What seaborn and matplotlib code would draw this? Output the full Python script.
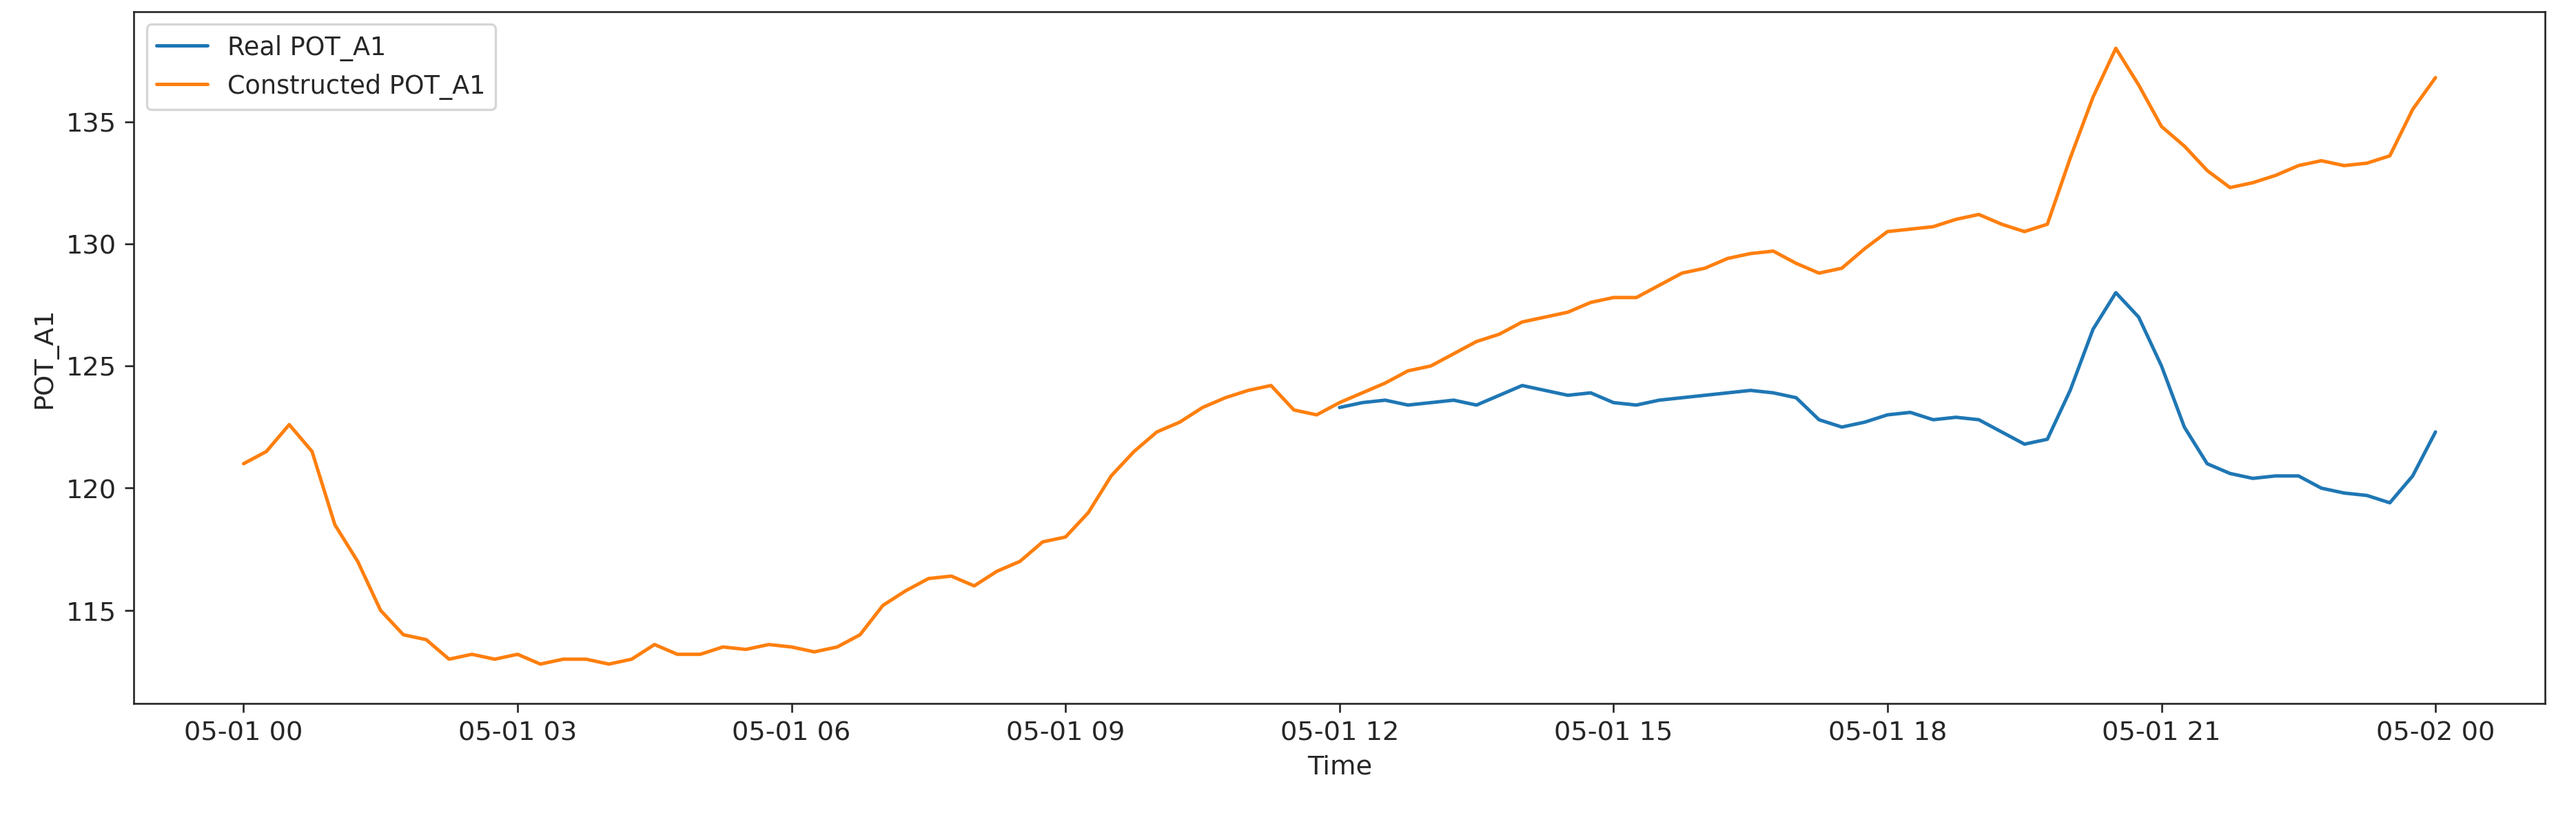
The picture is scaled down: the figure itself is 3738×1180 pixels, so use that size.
import matplotlib
matplotlib.use("Agg")
import matplotlib.pyplot as plt
import matplotlib.dates as mdates
import seaborn as sns
import pandas as pd

constructed = [121.0,121.5,122.6,121.5,118.5,117.0,115.0,114.0,113.8,113.0,113.2,113.0,113.2,112.8,113.0,113.0,
               112.8,113.0,113.6,113.2,113.2,113.5,113.4,113.6,113.5,113.3,113.5,114.0,115.2,115.8,116.3,116.4,
               116.0,116.6,117.0,117.8,118.0,119.0,120.5,121.5,122.3,122.7,123.3,123.7,124.0,124.2,123.2,123.0,
               123.5,123.9,124.3,124.8,125.0,125.5,126.0,126.3,126.8,127.0,127.2,127.6,127.8,127.8,128.3,128.8,
               129.0,129.4,129.6,129.7,129.2,128.8,129.0,129.8,130.5,130.6,130.7,131.0,131.2,130.8,130.5,130.8,
               133.5,136.0,138.0,136.5,134.8,134.0,133.0,132.3,132.5,132.8,133.2,133.4,133.2,133.3,133.6,135.5,136.8]
real = [123.3,123.5,123.6,123.4,123.5,123.6,123.4,123.8,124.2,124.0,123.8,123.9,123.5,123.4,123.6,123.7,
        123.8,123.9,124.0,123.9,123.7,122.8,122.5,122.7,123.0,123.1,122.8,122.9,122.8,122.3,121.8,122.0,
        124.0,126.5,128.0,127.0,125.0,122.5,121.0,120.6,120.4,120.5,120.5,120.0,119.8,119.7,119.4,120.5,122.3]

t_con = pd.date_range("2021-05-01 00:00", periods=len(constructed), freq="15min")
t_real = pd.date_range("2021-05-01 12:00", periods=len(real), freq="15min")

sns.set_style("white")
plt.rcParams["font.family"] = ["DejaVu Sans"]
plt.rcParams["font.size"] = 11.5
fig, ax = plt.subplots(figsize=(15.575, 4.92), dpi=240)
sns.lineplot(x=t_real, y=real, ax=ax, color="#1f77b4", label="Real POT_A1", linewidth=1.5)
sns.lineplot(x=t_con, y=constructed, ax=ax, color="#ff7f0e", label="Constructed POT_A1", linewidth=1.5)
ax.xaxis.set_major_locator(mdates.HourLocator(byhour=range(0, 24, 3)))
ax.xaxis.set_major_formatter(mdates.DateFormatter("%m-%d %H"))
ax.set_xlim(pd.Timestamp("2021-04-30 22:48"), pd.Timestamp("2021-05-02 01:12"))
ax.set_ylim(111.2, 139.5)
ax.set_yticks([115, 120, 125, 130, 135])
ax.set_xlabel("Time", fontsize=11.5)
ax.set_ylabel("POT_A1", fontsize=11.5)
ax.tick_params(axis="both", which="major", length=4, left=True, bottom=True, labelsize=11.5)
ax.legend(loc="upper left", fontsize=11)
fig.subplots_adjust(left=0.052, right=0.988, top=0.985, bottom=0.135)
fig.savefig("out.png")
